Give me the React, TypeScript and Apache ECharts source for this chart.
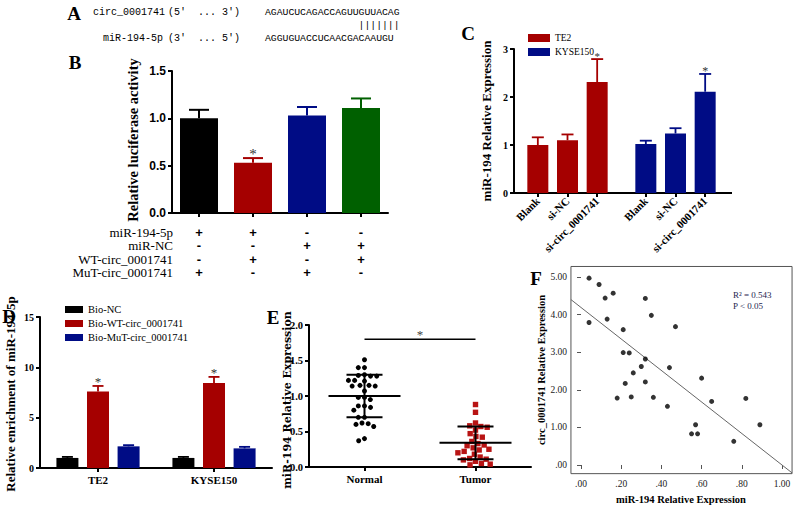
import React, { useEffect, useRef } from 'react';
import * as echarts from 'echarts';

const SERIF = '"Liberation Serif", "Times New Roman", serif';
const SANS = '"Liberation Sans", Arial, sans-serif';
const MONO = '"Liberation Mono", "DejaVu Sans Mono", monospace';
const DSERIF = '"DejaVu Serif", serif';

const RED = '#a50000';
const NAVY = '#000c85';
const GREEN = '#006000';

// ---------- Panel A ----------
const aNames = ['circ_0001741', 'miR-194-5p'];
const aDirections = [['(5′', '...', '3′)'], ['(3′', '...', '5′)']];
const aSequences = ['AGAUCUCAGACCAGUUGUUACAG', 'AGGUGUACCUCAACGACAAUGU'];
const aPairing = '|||||||';

// ---------- Panel B ----------
const bCategories = ['1', '2', '3', '4'];
const bValues = [1.0, 0.53, 1.03, 1.11];
const bErrors = [0.09, 0.05, 0.09, 0.1];
const bSignificant = [0, 1, 0, 0];
const bRowLabels = ['miR-194-5p', 'miR-NC', 'WT-circ_0001741', 'MuT-circ_0001741'];
const bRowSigns = [
  ['+', '+', '-', '-'],
  ['-', '-', '+', '+'],
  ['-', '+', '-', '+'],
  ['+', '-', '+', '-'],
];
const bYAxis = { min: 0, max: 1.5, interval: 0.5 };

// ---------- Panel C ----------
const cCategories = ['Blank', 'si-NC', 'si-circ_0001741'];
const cSeriesNames = ['TE2', 'KYSE150'];
const cTE2 = [1.0, 1.1, 2.31];
const cTE2Err = [0.16, 0.12, 0.48];
const cKYSE = [1.02, 1.24, 2.11];
const cKYSEErr = [0.07, 0.11, 0.37];
const cSignificant = [0, 0, 1];
const cYAxis = { min: 0, max: 3, interval: 1 };

// ---------- Panel D ----------
const dCategories = ['TE2', 'KYSE150'];
const dSeriesNames = ['Bio-NC', 'Bio-WT-circ_0001741', 'Bio-MuT-circ_0001741'];
const dBioNC = [1.0, 1.0];
const dBioWT = [7.6, 8.45];
const dBioMuT = [2.15, 1.95];
const dBioNCErr = [0.1, 0.1];
const dBioWTErr = [0.55, 0.6];
const dBioMuTErr = [0.12, 0.15];
const dBioWTSig = [1, 1];
const dYAxis = { min: 0, max: 15, interval: 5 };

// ---------- Panel E ----------
const eCategories = ['Normal', 'Tumor'];
const eNormal = [1.51, 1.4, 1.4, 1.3, 1.29, 1.28, 1.28, 1.22, 1.22, 1.21, 1.15, 1.15, 1.14, 1.14, 1.07,
  0.98, 0.98, 0.95, 0.86, 0.86, 0.84, 0.8, 0.7, 0.7, 0.62, 0.61, 0.6, 0.57, 0.4, 0.37];
const eTumor = [0.88, 0.77, 0.62, 0.58, 0.57, 0.56, 0.52, 0.47, 0.43, 0.42, 0.36, 0.33, 0.31, 0.3,
  0.27, 0.25, 0.24, 0.22, 0.2, 0.18, 0.14, 0.12, 0.11, 0.1, 0.08, 0.05, 0.04, 0.03];
const eMean = [1.0, 0.34];
const eSD = [0.3, 0.23];
const eSignificanceLevel = 1.8;
const eYAxis = { min: 0, max: 2, interval: 0.5 };

// ---------- Panel F ----------
const fMiR = [0.04, 0.09, 0.12, 0.16, 0.32, 0.35, 0.13, 0.04, 0.21, 0.47, 0.21, 0.24, 0.32, 0.3, 0.44,
  0.26, 0.32, 0.22, 0.6, 0.18, 0.25, 0.36, 0.43, 0.65, 0.82, 0.57, 0.55, 0.58, 0.76, 0.89];
const fCirc = [4.97, 4.8, 4.44, 4.57, 4.43, 3.98, 3.88, 3.79, 3.6, 3.68, 2.99, 2.98, 2.82, 2.62, 2.59,
  2.45, 2.21, 2.17, 2.31, 1.78, 1.81, 1.8, 1.56, 1.69, 1.77, 1.07, 0.83, 0.83, 0.63, 1.07];
const fIntercept = 4.19;
const fSlope = -4.19;
const fR2 = '0.543';
const fP = '0.05';
const fXAxis = { min: 0, max: 1, interval: 0.2 };
const fYAxis = { min: 0, max: 5, interval: 1 };
const fFrameX = [-0.05, 1.05];
const fFrameY = [-0.23, 5.28];

// ---------- helpers ----------
const axisLineBlack = { show: true, lineStyle: { color: '#000', width: 2 } };
const tickBlack = { show: true, length: 4, lineStyle: { color: '#000', width: 2 } };

function errorBarSeries(o: any) {
  const sig = o.sig || o.values.map(() => 0);
  return {
    type: 'custom',
    xAxisIndex: o.axis,
    yAxisIndex: o.axis,
    clip: false,
    silent: true,
    z: 5,
    data: o.values.map((v: number, i: number) => [i, v, o.errors[i], sig[i]]),
    encode: { x: 0, y: 1 },
    renderItem: (params: any, api: any) => {
      const i = api.value(0);
      const v = api.value(1);
      const e = api.value(2);
      const s = api.value(3);
      const base = api.coord([i, v]);
      const top = api.coord([i, v + e]);
      const x = base[0] + (o.offset || 0);
      const color = o.colors ? o.colors[params.dataIndex] : o.color;
      const children: any[] = [
        { type: 'line', shape: { x1: x, y1: base[1], x2: x, y2: top[1] }, style: { stroke: color, lineWidth: o.lineWidth } },
        { type: 'line', shape: { x1: x - o.capHalf, y1: top[1], x2: x + o.capHalf, y2: top[1] }, style: { stroke: color, lineWidth: o.lineWidth } },
      ];
      if (s) {
        children.push({
          type: 'text',
          x,
          y: top[1] - o.starGap + 0.2 * o.starSize,
          style: { text: '*', fontSize: o.starSize, fontFamily: SERIF, fill: '#333', align: 'center', verticalAlign: 'middle' },
        });
      }
      return { type: 'group', children };
    },
  };
}

function swarm(vals: number[], cat: number, api: any, D: number): number[] {
  const ys = vals.map((v) => api.coord([cat, v])[1]);
  const order = ys.map((_, i) => i).sort((a, b) => ys[a] - ys[b]);
  const placed: { x: number; y: number }[] = [];
  const offs = new Array(vals.length).fill(0);
  for (const i of order) {
    const y = ys[i];
    const cands = [0];
    for (const q of placed) {
      const dy = y - q.y;
      if (Math.abs(dy) < D) {
        const dx = Math.sqrt(D * D - dy * dy);
        cands.push(q.x + dx, q.x - dx);
      }
    }
    cands.sort((a, b) => Math.abs(a) - Math.abs(b) || a - b);
    let chosen = cands[cands.length - 1];
    for (const c of cands) {
      if (placed.every((q) => (q.x - c) ** 2 + (q.y - y) ** 2 >= D * D - 0.01)) {
        chosen = c;
        break;
      }
    }
    placed.push({ x: chosen, y });
    offs[i] = chosen;
  }
  return offs;
}

function swarmSeries(vals: number[], cat: number, shape: 'circle' | 'square', color: string, size: number, D: number) {
  return {
    type: 'custom',
    xAxisIndex: 4,
    yAxisIndex: 4,
    silent: true,
    clip: false,
    z: 3,
    data: vals.map((v) => [cat, v]),
    encode: { x: 0, y: 1 },
    renderItem: (params: any, api: any) => {
      const offs = swarm(vals, cat, api, D);
      const p = api.coord([cat, vals[params.dataIndex]]);
      const cx = p[0] + offs[params.dataIndex];
      const cy = p[1];
      if (shape === 'circle') {
        return { type: 'circle', shape: { cx, cy, r: size / 2 }, style: { fill: color } };
      }
      return { type: 'rect', shape: { x: cx - size / 2, y: cy - size / 2, width: size, height: size }, style: { fill: color } };
    },
  };
}

function txt(text: string, x: number, y: number, size: number, family: string, extra: any = {}) {
  return {
    type: 'text',
    x,
    y,
    rotation: extra.rotation || 0,
    style: {
      text,
      fontSize: size,
      fontFamily: family,
      fontWeight: extra.bold ? 'bold' : 'normal',
      fill: extra.fill || '#000',
      align: extra.align || 'left',
      verticalAlign: 'middle',
    },
  };
}

const valueYAxisBase = (grid: number, cfg: any, labelFont: any, fmt: (v: number) => string, offset = 0) => ({
  type: 'value',
  gridIndex: grid,
  min: cfg.min,
  max: cfg.max,
  interval: cfg.interval,
  offset,
  axisLine: axisLineBlack,
  axisTick: tickBlack,
  splitLine: { show: false },
  axisLabel: { ...labelFont, color: '#000', margin: 6, formatter: fmt },
});

function buildOption() {
  const graphic: any[] = [];
  // Panel letters
  graphic.push(txt('A', 74, 13, 19, SERIF, { bold: true, align: 'center' }));
  graphic.push(txt('B', 75, 62, 19, SERIF, { bold: true, align: 'center' }));
  graphic.push(txt('C', 468, 33, 19, SERIF, { bold: true, align: 'center' }));
  graphic.push(txt('D', 9, 316, 19, SERIF, { bold: true, align: 'center' }));
  graphic.push(txt('E', 273, 317, 19, SERIF, { bold: true, align: 'center' }));
  graphic.push(txt('F', 536, 278, 19, SERIF, { bold: true, align: 'center' }));

  // Panel A text
  const aRowY = [12, 38];
  const aNameX = [93, 103];
  aNames.forEach((n, r) => {
    graphic.push(txt(n, aNameX[r], aRowY[r], 10, MONO));
    graphic.push(txt(aDirections[r][0], 168, aRowY[r], 10, MONO));
    graphic.push(txt(aDirections[r][1], 198, aRowY[r], 10, MONO));
    graphic.push(txt(aDirections[r][2], 222, aRowY[r], 10, MONO));
    graphic.push(txt(aSequences[r], 265, aRowY[r], 9.75, MONO));
  });
  graphic.push(txt(aPairing, 265 + 5.85 * 16, 25, 9.75, MONO));

  // Panel B titles & row labels
  graphic.push(txt('Relative luciferase activity', 133, 140, 14.5, SERIF, { bold: true, align: 'center', rotation: Math.PI / 2 }));
  bRowLabels.forEach((l, r) => graphic.push(txt(l, 173, 232 + r * 13.6, 13, SERIF, { align: 'right' })));

  // Panel C title + axis line
  graphic.push(txt('miR-194 Relative Expression', 486, 121, 13, SERIF, { bold: true, align: 'center', rotation: Math.PI / 2 }));
  graphic.push({ type: 'line', shape: { x1: 514, y1: 193, x2: 732, y2: 193 }, style: { stroke: '#000', lineWidth: 2 } });

  // Panel D title
  graphic.push(txt('Relative enrichment of miR-194-5p', 10, 394, 13, SERIF, { bold: true, align: 'center', rotation: Math.PI / 2 }));

  // Panel E title
  graphic.push(txt('miR-194 Relative Expression', 287, 400, 11, DSERIF, { bold: true, align: 'center', rotation: Math.PI / 2 }));

  // Panel F titles & stats
  graphic.push(txt('circ_0001741 Relative Expression', 541, 370, 10.5, SERIF, { bold: true, align: 'center', rotation: Math.PI / 2 }));
  graphic.push(txt('miR-194 Relative Expression', 681, 499, 10.5, SERIF, { bold: true, align: 'center' }));
  graphic.push(txt('R² = ' + fR2, 733, 295, 9, SERIF, { fill: '#1e1e50' }));
  graphic.push(txt('P < ' + fP, 733, 306, 9, SERIF, { fill: '#1e1e50' }));

  const boldSans12 = { fontSize: 12, fontWeight: 'bold', fontFamily: SANS };
  const boldSerif10 = { fontSize: 10, fontWeight: 'bold', fontFamily: SERIF };
  const boldSerif105 = { fontSize: 10.5, fontWeight: 'bold', fontFamily: SERIF };
  const boldSerif11 = { fontSize: 11, fontWeight: 'bold', fontFamily: SERIF };

  const catAxis = (grid: number, data: string[], labelOpts: any, showLine = true) => ({
    type: 'category',
    gridIndex: grid,
    data,
    axisLine: showLine ? axisLineBlack : { show: false },
    axisTick: { ...tickBlack, alignWithLabel: true },
    splitLine: { show: false },
    axisLabel: { interval: 0, color: '#000', ...labelOpts },
  });

  const xAxis = [
    catAxis(0, bCategories, { show: false }),
    catAxis(1, cCategories, { ...boldSerif11, rotate: 45, margin: 6 }, false),
    catAxis(2, cCategories, { ...boldSerif11, rotate: 45, margin: 6 }, false),
    catAxis(3, dCategories, { ...boldSerif11, margin: 6 }),
    catAxis(4, eCategories, { ...boldSerif11, margin: 6 }),
    {
      type: 'value',
      gridIndex: 5,
      min: fXAxis.min,
      max: fXAxis.max,
      interval: fXAxis.interval,
      offset: 8.6,
      axisLine: { show: false },
      axisTick: { show: true, length: 4, lineStyle: { color: '#555', width: 1 } },
      splitLine: { show: false },
      axisLabel: { fontSize: 9.5, fontFamily: SERIF, color: '#222', margin: 5, formatter: (v: number) => v.toFixed(2).replace(/^0\./, '.') },
    },
  ];

  const yAxis = [
    valueYAxisBase(0, bYAxis, boldSans12, (v) => v.toFixed(1)),
    valueYAxisBase(1, cYAxis, boldSerif10, (v) => String(v), 9),
    { type: 'value', gridIndex: 2, min: cYAxis.min, max: cYAxis.max, interval: cYAxis.interval, show: false },
    valueYAxisBase(3, dYAxis, boldSerif10, (v) => String(v)),
    valueYAxisBase(4, eYAxis, boldSerif105, (v) => v.toFixed(1)),
    {
      type: 'value',
      gridIndex: 5,
      min: fYAxis.min,
      max: fYAxis.max,
      interval: fYAxis.interval,
      offset: 10,
      axisLine: { show: false },
      axisTick: { show: true, length: 4, lineStyle: { color: '#555', width: 1 } },
      splitLine: { show: false },
      axisLabel: { fontSize: 9.5, fontFamily: SERIF, color: '#222', margin: 4, formatter: (v: number) => v.toFixed(2).replace(/^0\./, '.') },
    },
  ];

  const grid = [
    { left: 172, top: 71, width: 216, height: 142 },
    { left: 523, top: 49, width: 89, height: 144 },
    { left: 631, top: 49, width: 89, height: 144 },
    { left: 40, top: 317, width: 232, height: 151 },
    { left: 309, top: 325, width: 222, height: 142 },
    { left: 581, top: 277, width: 201, height: 188 },
  ];

  const bColors = ['#000000', RED, NAVY, GREEN];
  const dColors = ['#000000', RED, NAVY];
  const dValues = [dBioNC, dBioWT, dBioMuT];
  const dErrors = [dBioNCErr, dBioWTErr, dBioMuTErr];
  const dSig = [null, dBioWTSig, null];
  const dBarWidth = 22;
  const dGap = 0.39;

  const bTableCells: { c: number; r: number; s: string }[] = [];
  bRowSigns.forEach((row, r) => row.forEach((s, c) => bTableCells.push({ c, r, s })));

  const series: any[] = [
    // Panel B
    {
      type: 'bar',
      xAxisIndex: 0,
      yAxisIndex: 0,
      barWidth: 38,
      data: bValues.map((v, i) => ({ value: v, itemStyle: { color: bColors[i] } })),
    },
    errorBarSeries({ axis: 0, values: bValues, errors: bErrors, sig: bSignificant, colors: bColors, capHalf: 10, lineWidth: 2, starSize: 15, starGap: 7 }),
    {
      type: 'custom',
      xAxisIndex: 0,
      yAxisIndex: 0,
      clip: false,
      silent: true,
      data: bTableCells.map((cell) => [cell.c, 0]),
      encode: { x: 0, y: 1 },
      renderItem: (params: any, api: any) => {
        const cell = bTableCells[params.dataIndex];
        const p = api.coord([cell.c, 0]);
        return {
          type: 'text',
          x: p[0],
          y: 232 + cell.r * 13.6,
          style: { text: cell.s, fontSize: 13, fontWeight: 'bold', fontFamily: SANS, fill: '#000', align: 'center', verticalAlign: 'middle' },
        };
      },
    },
    // Panel C
    { type: 'bar', name: cSeriesNames[0], xAxisIndex: 1, yAxisIndex: 1, barWidth: 21, itemStyle: { color: RED }, data: cTE2 },
    { type: 'bar', name: cSeriesNames[1], xAxisIndex: 2, yAxisIndex: 2, barWidth: 21, itemStyle: { color: NAVY }, data: cKYSE },
    errorBarSeries({ axis: 1, values: cTE2, errors: cTE2Err, sig: cSignificant, color: RED, capHalf: 6, lineWidth: 1.8, starSize: 11, starGap: 5 }),
    errorBarSeries({ axis: 2, values: cKYSE, errors: cKYSEErr, sig: cSignificant, color: NAVY, capHalf: 6, lineWidth: 1.8, starSize: 12, starGap: 5 }),
    // Panel D
    ...dSeriesNames.map((n, k) => ({
      type: 'bar',
      name: n,
      xAxisIndex: 3,
      yAxisIndex: 3,
      barWidth: dBarWidth,
      barGap: Math.round(dGap * 100) + '%',
      itemStyle: { color: dColors[k] },
      data: dValues[k],
    })),
    ...dSeriesNames.map((n, k) =>
      errorBarSeries({
        axis: 3,
        values: dValues[k],
        errors: dErrors[k],
        sig: dSig[k],
        color: dColors[k],
        capHalf: 5.5,
        lineWidth: 1.8,
        offset: (k - 1) * dBarWidth * (1 + dGap),
        starSize: 13,
        starGap: 7,
      })
    ),
    // Panel E
    swarmSeries(eNormal, 0, 'circle', '#000', 5, 6.2),
    swarmSeries(eTumor, 1, 'square', '#b81414', 5.4, 6.4),
    {
      type: 'custom',
      xAxisIndex: 4,
      yAxisIndex: 4,
      clip: false,
      silent: true,
      z: 6,
      data: eMean.map((m, i) => [i, m, eSD[i]]),
      encode: { x: 0, y: 1 },
      renderItem: (params: any, api: any) => {
        const c = api.value(0);
        const m = api.value(1);
        const s = api.value(2);
        const pm = api.coord([c, m]);
        const pu = api.coord([c, m + s]);
        const pl = api.coord([c, m - s]);
        const st = { stroke: '#000', lineWidth: 2 };
        const x = pm[0];
        return {
          type: 'group',
          children: [
            { type: 'line', shape: { x1: x - 36, y1: pm[1], x2: x + 36, y2: pm[1] }, style: st },
            { type: 'line', shape: { x1: x - 18, y1: pu[1], x2: x + 18, y2: pu[1] }, style: st },
            { type: 'line', shape: { x1: x - 18, y1: pl[1], x2: x + 18, y2: pl[1] }, style: st },
            { type: 'line', shape: { x1: x, y1: pu[1], x2: x, y2: pl[1] }, style: st },
          ],
        };
      },
    },
    {
      type: 'custom',
      xAxisIndex: 4,
      yAxisIndex: 4,
      clip: false,
      silent: true,
      data: [[0, 1, eSignificanceLevel]],
      encode: { x: [0, 1], y: 2 },
      renderItem: (params: any, api: any) => {
        const a = api.coord([api.value(0), api.value(2)]);
        const b = api.coord([api.value(1), api.value(2)]);
        return {
          type: 'group',
          children: [
            { type: 'line', shape: { x1: a[0], y1: a[1], x2: b[0], y2: b[1] }, style: { stroke: '#000', lineWidth: 1.5 } },
            {
              type: 'text',
              x: (a[0] + b[0]) / 2,
              y: a[1] - 7 + 0.2 * 13,
              style: { text: '*', fontSize: 13, fontFamily: SERIF, fill: '#444', align: 'center', verticalAlign: 'middle' },
            },
          ],
        };
      },
    },
    // Panel F
    {
      type: 'scatter',
      xAxisIndex: 5,
      yAxisIndex: 5,
      symbolSize: 5,
      itemStyle: { color: '#000' },
      data: fMiR.map((x, i) => [x, fCirc[i]]),
    },
    {
      type: 'custom',
      xAxisIndex: 5,
      yAxisIndex: 5,
      clip: false,
      silent: true,
      data: [[fFrameX[0], fFrameX[1], fFrameY[0], fFrameY[1]]],
      encode: { x: [0, 1], y: [2, 3] },
      renderItem: (params: any, api: any) => {
        const tl = api.coord([fFrameX[0], fFrameY[1]]);
        const br = api.coord([fFrameX[1], fFrameY[0]]);
        const p1 = api.coord([fFrameX[0], fIntercept + fSlope * fFrameX[0]]);
        const p2 = api.coord([fFrameX[1], fIntercept + fSlope * fFrameX[1]]);
        return {
          type: 'group',
          children: [
            { type: 'rect', shape: { x: tl[0], y: tl[1], width: br[0] - tl[0], height: br[1] - tl[1] }, style: { fill: 'none', stroke: '#555', lineWidth: 1 } },
            { type: 'line', shape: { x1: p1[0], y1: p1[1], x2: p2[0], y2: p2[1] }, style: { stroke: '#666', lineWidth: 1 } },
          ],
        };
      },
    },
  ];

  return {
    animation: false,
    backgroundColor: '#fff',
    grid,
    xAxis,
    yAxis,
    legend: [
      {
        data: cSeriesNames,
        left: 523,
        top: 28,
        orient: 'vertical',
        itemWidth: 22,
        itemHeight: 8,
        itemGap: 4,
        icon: 'rect',
        selectedMode: false,
        textStyle: { fontFamily: SERIF, fontSize: 9.5, color: '#000' },
      },
      {
        data: dSeriesNames,
        left: 60,
        top: 299,
        orient: 'vertical',
        itemWidth: 18,
        itemHeight: 7,
        itemGap: 3,
        icon: 'rect',
        selectedMode: false,
        textStyle: { fontFamily: SERIF, fontSize: 10.5, color: '#000' },
      },
    ],
    graphic,
    series,
  };
}

export default function App() {
  const ref = useRef<HTMLDivElement>(null);
  useEffect(() => {
    if (!ref.current) return;
    const chart = echarts.init(ref.current, undefined, { renderer: 'svg' });
    chart.setOption(buildOption() as any);
    return () => chart.dispose();
  }, []);
  return <div ref={ref} style={{ position: 'absolute', left: 0, top: 0, width: 794, height: 506 }} />;
}
